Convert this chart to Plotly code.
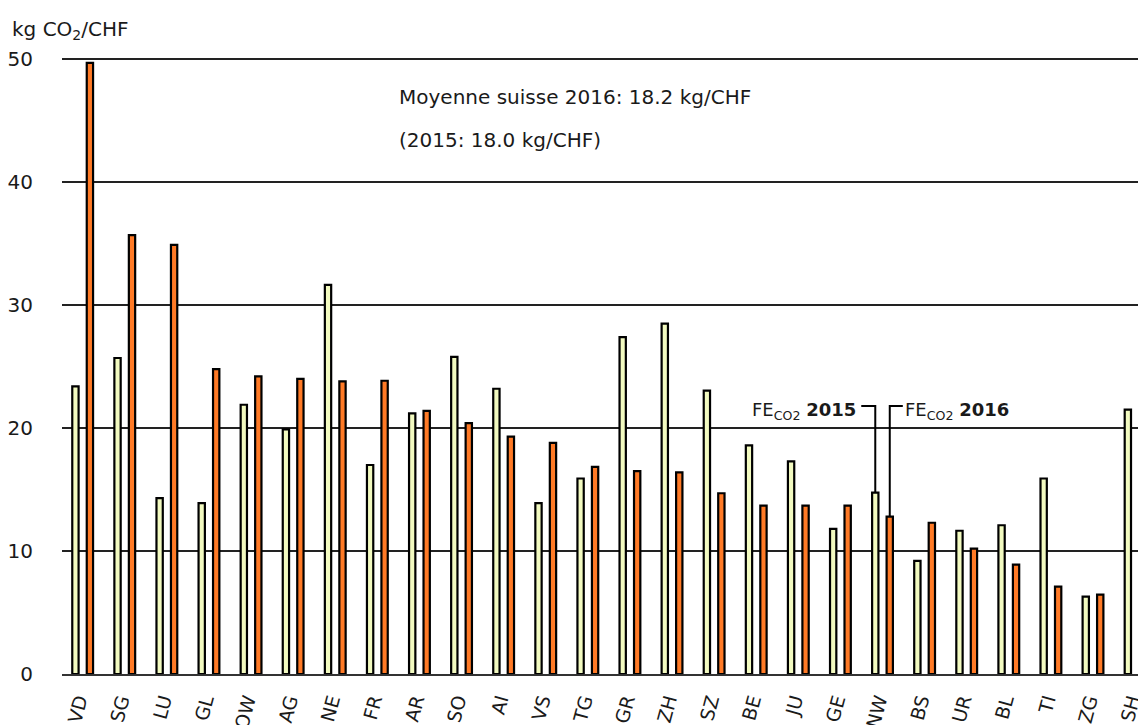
import plotly.graph_objects as go

cantons = ["VD", "SG", "LU", "GL", "OW", "AG", "NE", "FR", "AR", "SO", "AI", "VS", "TG",
           "GR", "ZH", "SZ", "BE", "JU", "GE", "NW", "BS", "UR", "BL", "TI", "ZG", "SH"]
fe_2015 = [23.4, 25.7, 14.3, 13.9, 21.9, 19.9, 31.65, 17.0, 21.2, 25.8, 23.2, 13.9, 15.9,
           27.4, 28.5, 23.05, 18.6, 17.3, 11.8, 14.75, 9.2, 11.65, 12.1, 15.9, 6.3, 21.5]
fe_2016 = [49.7, 35.7, 34.9, 24.8, 24.2, 24.0, 23.8, 23.85, 21.4, 20.4, 19.3, 18.8, 16.85,
           16.5, 16.4, 14.7, 13.7, 13.7, 13.7, 12.8, 12.3, 10.2, 8.9, 7.1, 6.45, None]
y_ticks = [0, 10, 20, 30, 40, 50]

FONT = "DejaVu Sans"
TXT = "#1a1a1a"
idx = list(range(len(cantons)))

BW = 0.15
OFF15 = -0.246
OFF16 = 0.098
C15 = OFF15 + BW / 2
C16 = OFF16 + BW / 2

fig = go.Figure()
fig.add_trace(go.Bar(x=idx, y=fe_2015, width=BW, offset=OFF15,
                     marker=dict(color="#F2FAC0", line=dict(color="#000000", width=2.2)),
                     name="2015", showlegend=False))
fig.add_trace(go.Bar(x=idx, y=fe_2016, width=BW, offset=OFF16,
                     marker=dict(color="#FF7A26", line=dict(color="#000000", width=2.2)),
                     name="2016", showlegend=False))

# leader lines for the labels at NW
k = cantons.index("NW")
lev = 21.8
fig.add_shape(type="path", xref="x", yref="y",
              path=f"M {k + C15 - 0.333} {lev} L {k + C15} {lev} L {k + C15} {fe_2015[k]}",
              line=dict(color="#000000", width=2))
fig.add_shape(type="path", xref="x", yref="y",
              path=f"M {k + C16} {fe_2016[k]} L {k + C16} {lev} L {k + C16 + 0.31} {lev}",
              line=dict(color="#000000", width=2))

fig.add_annotation(x=k + C15 - 0.333 - 0.07, y=lev - 0.45, xref="x", yref="y",
                   text="FE<sub>CO2</sub> <b>2015</b>", showarrow=False,
                   xanchor="right", yanchor="middle",
                   font=dict(family=FONT, size=18, color=TXT))
fig.add_annotation(x=k + C16 + 0.31, y=lev - 0.45, xref="x", yref="y",
                   text="FE<sub>CO2</sub> <b>2016</b>", showarrow=False,
                   xanchor="left", yanchor="middle",
                   font=dict(family=FONT, size=18, color=TXT))

fig.add_annotation(x=0.309, y=46.9, xref="paper", yref="y",
                   text="Moyenne suisse 2016: 18.2 kg/CHF", showarrow=False,
                   xanchor="left", yanchor="middle",
                   font=dict(family=FONT, size=20, color=TXT))
fig.add_annotation(x=0.309, y=43.45, xref="paper", yref="y",
                   text="(2015: 18.0 kg/CHF)", showarrow=False,
                   xanchor="left", yanchor="middle",
                   font=dict(family=FONT, size=20, color=TXT))

fig.add_annotation(x=-0.048, y=1.046, xref="paper", yref="paper",
                   text="kg CO<sub>2</sub>/CHF", showarrow=False,
                   xanchor="left", yanchor="middle",
                   font=dict(family=FONT, size=20, color=TXT))

# the page body adds an 8px offset; the figure is sized so the chart lands where the reference has it
fig.update_layout(
    width=1138, height=717,
    margin=dict(l=54, r=0, t=50, b=51, autoexpand=False),
    paper_bgcolor="white", plot_bgcolor="white",
    barmode="overlay",
    font=dict(family=FONT, color=TXT),
)
fig.update_xaxes(
    tickmode="array", tickvals=idx, ticktext=cantons,
    range=[-0.49, 25.26], tickangle=-75,
    showgrid=False, showline=True, linecolor="#333333", linewidth=1.8,
    ticks="", tickfont=dict(family=FONT, size=19, color=TXT),
    ticklabelshift=-4, ticklabelstandoff=6,
    automargin=False, zeroline=False,
)
fig.update_yaxes(
    range=[0, 50.1], tickmode="array", tickvals=y_ticks,
    showgrid=True, gridcolor="#222222", gridwidth=1.5,
    zeroline=False, showline=False, ticks="",
    ticklabelstandoff=28,
    tickfont=dict(family=FONT, size=20, color=TXT),
    automargin=False,
)

fig.write_html("out.html")
